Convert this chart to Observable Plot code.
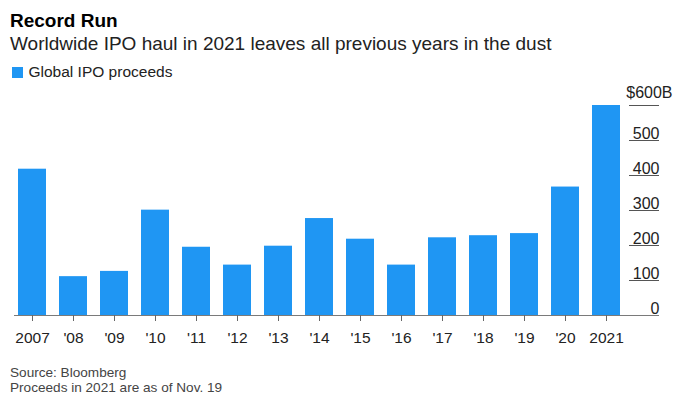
<!DOCTYPE html>
<html>
<head>
<meta charset="utf-8">
<script src="https://cdn.jsdelivr.net/npm/d3@7"></script>
<script src="https://cdn.jsdelivr.net/npm/@observablehq/plot@0.6"></script>
<style>
  html, body { margin: 0; padding: 0; background: #fff; }
  #wrap { position: relative; width: 674px; height: 394px; overflow: hidden; font-family: "Liberation Sans", Arial, sans-serif; }
  .abs { position: absolute; white-space: nowrap; }
  #title { left: 10px; top: 10px; font-size: 19px; line-height: 22px; font-weight: bold; color: #000; }
  #subtitle { left: 10px; top: 32.5px; font-size: 19px; line-height: 22px; color: #222; }
  #legend { left: 11.5px; top: 62.6px; font-size: 15.5px; line-height: 18px; color: #222; }
  #legend .sw { display: inline-block; width: 11px; height: 11px; background: #1f96f3; margin-right: 6px; vertical-align: -1px; }
  .foot { left: 10px; font-size: 13.6px; line-height: 15.6px; height: 15.6px; color: #444; }
  #foot1 { top: 364.5px; }
  #foot2 { top: 380.1px; }
  #chart { position: absolute; left: 0; top: 80px; }
</style>
</head>
<body>
<div id="wrap">
  <div id="chart"></div>
  <div id="title" class="abs">Record Run</div>
  <div id="subtitle" class="abs">Worldwide IPO haul in 2021 leaves all previous years in the dust</div>
  <div id="legend" class="abs"><span class="sw"></span>Global IPO proceeds</div>
  <div id="foot1" class="abs foot">Source: Bloomberg</div>
  <div id="foot2" class="abs foot">Proceeds in 2021 are as of Nov. 19</div>
</div>
<script>
const years = ["2007","2008","2009","2010","2011","2012","2013","2014","2015","2016","2017","2018","2019","2020","2021"];
const xTickLabels = ["2007","'08","'09","'10","'11","'12","'13","'14","'15","'16","'17","'18","'19","'20","2021"];
const proceeds = [418, 111, 126, 301, 195, 144, 198, 277, 218, 144, 222, 228, 234, 367, 600];
const yTicks = [0, 100, 200, 300, 400, 500];
const yTopTick = 600;
const yTopLabel = "$600B";

const data = years.map((y, i) => ({year: y, value: proceeds[i]}));
const labelOf = new Map(years.map((y, i) => [y, xTickLabels[i]]));
const font = "Liberation Sans, Arial, sans-serif";

const chart = Plot.plot({
  width: 674,
  height: 280,
  marginTop: 25,
  marginBottom: 45,
  marginLeft: 14,
  marginRight: 15,
  style: {fontFamily: font, background: "transparent", color: "#222"},
  x: {domain: years, range: [8.5, 628.6], paddingInner: 0.315, paddingOuter: 0.1575, align: 0.5, label: null},
  y: {domain: [0, 600], axis: null},
  marks: [
    Plot.barY(data, {x: "year", y: "value", fill: "#1f96f3"}),
    Plot.ruleY([...yTicks.slice(1), yTopTick], {stroke: "#555", strokeWidth: 1, insetLeft: 615}),
    Plot.ruleY([0], {stroke: "#7a7a7a", strokeWidth: 1.2}),
    Plot.axisX({tickSize: 6, tickPadding: 10, fontSize: 15.5, stroke: "#666", tickFormat: d => labelOf.get(d), fill: "#222", label: null}),
    Plot.text(yTicks, {y: d => d, text: d => String(d), frameAnchor: "right", textAnchor: "end", lineAnchor: "bottom", dy: -2, fontSize: 16, fill: "#222"}),
    Plot.text([yTopTick], {y: d => d, text: () => yTopLabel, frameAnchor: "right", textAnchor: "end", lineAnchor: "bottom", dx: 13, dy: -8, fontSize: 16, fill: "#222"})
  ]
});
document.getElementById("chart").appendChild(chart);
</script>
</body>
</html>
